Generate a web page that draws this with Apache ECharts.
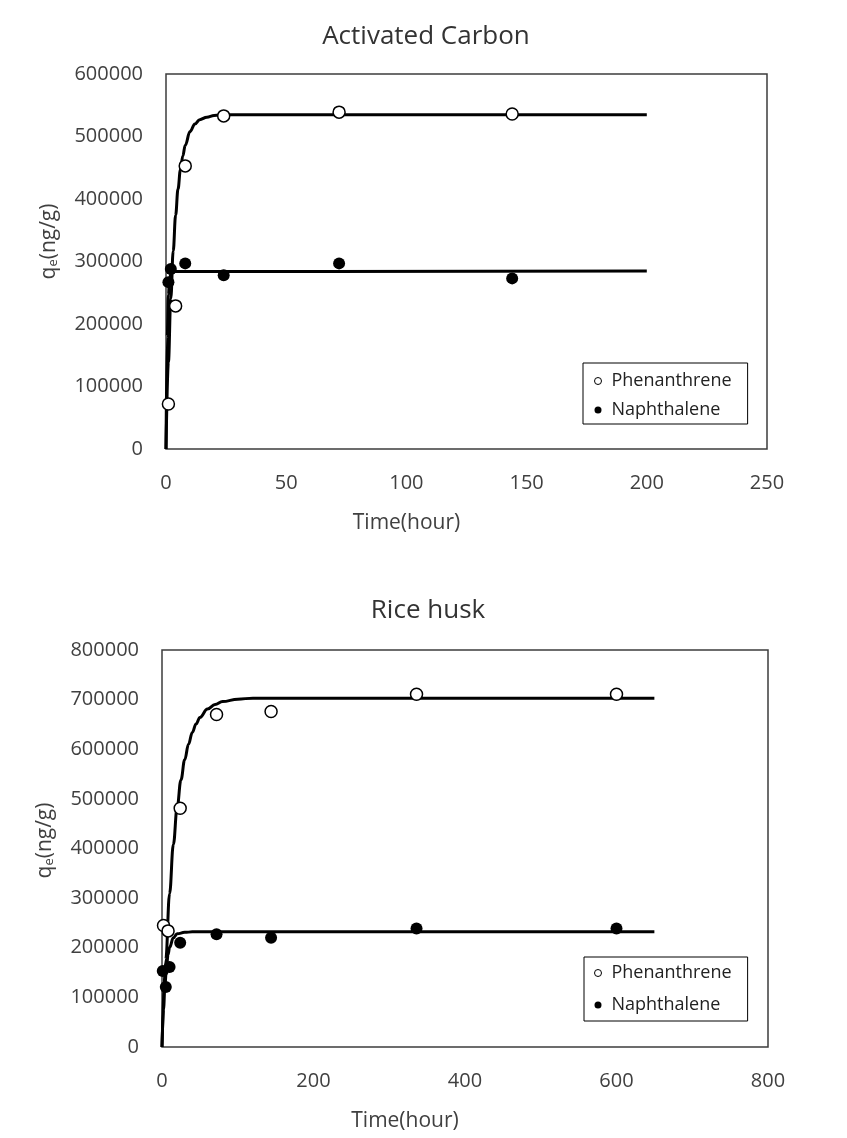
<!DOCTYPE html>
<html>
<head>
<meta charset="utf-8">
<script src="https://cdn.jsdelivr.net/npm/echarts@6/dist/echarts.min.js"></script>
<style>
  html, body { margin: 0; padding: 0; background: #fff; }
  #chart { width: 847px; height: 1138px; }
</style>
</head>
<body>
<div id="chart"></div>
<script>
// ---- Activated Carbon: measured uptake (time in hours, q_e in ng/g) ----
const acPhenTime = [1, 4, 8, 24, 72, 144];
const acPhenQ    = [72000, 229000, 453000, 533000, 539000, 536000];
const acNaphTime = [1, 2, 8, 24, 72, 144];
const acNaphQ    = [267000, 288000, 297000, 278000, 297000, 273000];

// Activated Carbon: kinetic fit curves
const acPhenFitTime = [0, 1, 2, 3, 4, 5, 6, 7, 8, 10, 12, 14, 17, 20, 25, 30, 200];
const acPhenFitQ    = [0, 139000, 241000, 317000, 374000, 416000, 447000, 469000, 486000, 508000, 520000, 527000, 531000, 533500, 535000, 535000, 535000];
const acNaphFitTime = [0, 0.5, 1, 1.5, 2, 3, 200];
const acNaphFitQ    = [0, 180000, 247000, 271000, 280000, 284000, 285000];

// ---- Rice husk: measured uptake ----
const rhPhenTime = [2, 8, 24, 72, 144, 336, 600];
const rhPhenQ    = [245000, 234000, 481000, 670000, 676000, 711000, 711000];
const rhNaphTime = [1, 5, 10, 24, 72, 144, 336, 600];
const rhNaphQ    = [153000, 121000, 161000, 210000, 227000, 220000, 239000, 239000];

// Rice husk: kinetic fit curves
const rhPhenFitTime = [0, 5, 10, 15, 20, 25, 30, 35, 40, 45, 50, 60, 70, 80, 100, 120, 650];
const rhPhenFitQ    = [0, 177000, 309000, 408000, 483000, 538000, 579000, 610000, 634000, 651000, 664000, 681000, 690000, 696000, 701000, 703000, 703000];
const rhNaphFitTime = [0, 2, 4, 6, 8, 10, 15, 20, 30, 40, 650];
const rhNaphFitQ    = [0, 76000, 128000, 162000, 186000, 201000, 220000, 228000, 231000, 232000, 232000];

// Axis ticks
const acXTicks = { min: 0, max: 250, interval: 50 };
const acYTicks = { min: 0, max: 600000, interval: 100000 };
const rhXTicks = { min: 0, max: 800, interval: 200 };
const rhYTicks = { min: 0, max: 800000, interval: 100000 };

const titles = ['Activated Carbon', 'Rice husk'];
const xName = 'Time(hour)';
const names = ['Phenanthrene', 'Naphthalene'];

const FONT = '"Open Sans", "Noto Sans", sans-serif';
const TXT = '#404040';

function zip(xs, ys) { return xs.map((x, i) => [x, ys[i]]); }

function xAxisOf(idx, ticks) {
  return {
    type: 'value', gridIndex: idx,
    min: ticks.min, max: ticks.max, interval: ticks.interval,
    axisLine: { show: false }, axisTick: { show: false }, splitLine: { show: false },
    axisLabel: { fontFamily: FONT, fontSize: 20, color: TXT, margin: 24, formatter: v => String(v) },
    name: xName, nameLocation: 'middle', nameGap: 64,
    nameTextStyle: { fontFamily: FONT, fontSize: 21, color: TXT, padding: [0, 120, 0, 0] }
  };
}

function yAxisOf(idx, ticks, shift) {
  return {
    type: 'value', gridIndex: idx,
    min: ticks.min, max: ticks.max, interval: ticks.interval,
    axisLine: { show: false }, axisTick: { show: false }, splitLine: { show: false },
    axisLabel: { fontFamily: FONT, fontSize: 20, color: TXT, margin: 23, formatter: v => String(v) },
    name: '{q|q}{s|e}{q|(ng/g)}', nameLocation: 'middle', nameRotate: 90, nameGap: 106,
    nameTextStyle: {
      color: TXT, padding: [0, 0, 0, shift],
      rich: {
        q: { fontFamily: FONT, fontSize: 21, color: TXT },
        s: { fontFamily: FONT, fontSize: 13, color: TXT, verticalAlign: 'bottom', lineHeight: 15 }
      }
    }
  };
}

function scatter(name, idx, data, hollow) {
  return {
    name, type: 'scatter', xAxisIndex: idx, yAxisIndex: idx, z: 5,
    symbol: 'circle', symbolSize: 12, data,
    itemStyle: hollow
      ? { color: '#fff', borderColor: '#000', borderWidth: 1.5, opacity: 1 }
      : { color: '#000', borderColor: '#000', borderWidth: 0, opacity: 1 }
  };
}

function fit(name, idx, data) {
  return {
    name, type: 'line', xAxisIndex: idx, yAxisIndex: idx, z: 3,
    data, showSymbol: false, smooth: 0.4, smoothMonotone: 'x',
    lineStyle: { color: '#000', width: 3 }, silent: true
  };
}

function legendOf(left, top, padding, gap) {
  return {
    orient: 'vertical', left, top, padding, itemGap: gap,
    itemWidth: 7, itemHeight: 7, selectedMode: false,
    borderColor: '#000', borderWidth: 1,
    textStyle: { fontFamily: FONT, fontSize: 18, color: '#222', lineHeight: 15, padding: [0, 0, 0, 5] },
    data: [
      { name: names[0], icon: 'circle', itemStyle: { color: '#fff', borderColor: '#000', borderWidth: 1 } },
      { name: names[1], icon: 'circle', itemStyle: { color: '#000', borderWidth: 0 } }
    ]
  };
}

const option = {
  backgroundColor: '#fff',
  animation: false,
  title: [
    { text: titles[0], left: 426, top: 24, textAlign: 'center', padding: 0,
      textStyle: { fontFamily: FONT, fontSize: 26, fontWeight: 'normal', color: '#333' } },
    { text: titles[1], left: 428, top: 598, textAlign: 'center', padding: 0,
      textStyle: { fontFamily: FONT, fontSize: 26, fontWeight: 'normal', color: '#333' } }
  ],
  grid: [
    { left: 166, top: 74, width: 601, height: 375, show: true,
      borderColor: '#3c3c3c', borderWidth: 1.5, backgroundColor: '#fff' },
    { left: 162, top: 650, width: 606, height: 397, show: true,
      borderColor: '#3c3c3c', borderWidth: 1.5, backgroundColor: '#fff' }
  ],
  xAxis: [xAxisOf(0, acXTicks), xAxisOf(1, rhXTicks)],
  yAxis: [yAxisOf(0, acYTicks, 40), yAxisOf(1, rhYTicks, 16)],
  legend: [
    legendOf(583, 363, [9, 16, 5, 11], 11),
    legendOf(584, 957, [7, 16, 7, 10], 14)
  ],
  series: [
    fit('Phenanthrene fit (AC)', 0, zip(acPhenFitTime, acPhenFitQ)),
    fit('Naphthalene fit (AC)', 0, zip(acNaphFitTime, acNaphFitQ)),
    scatter(names[0], 0, zip(acPhenTime, acPhenQ), true),
    scatter(names[1], 0, zip(acNaphTime, acNaphQ), false),
    fit('Phenanthrene fit (RH)', 1, zip(rhPhenFitTime, rhPhenFitQ)),
    fit('Naphthalene fit (RH)', 1, zip(rhNaphFitTime, rhNaphFitQ)),
    scatter(names[0], 1, zip(rhPhenTime, rhPhenQ), true),
    scatter(names[1], 1, zip(rhNaphTime, rhNaphQ), false)
  ]
};

const chart = echarts.init(document.getElementById('chart'), null, { renderer: 'canvas' });
chart.setOption(option);
</script>
</body>
</html>
